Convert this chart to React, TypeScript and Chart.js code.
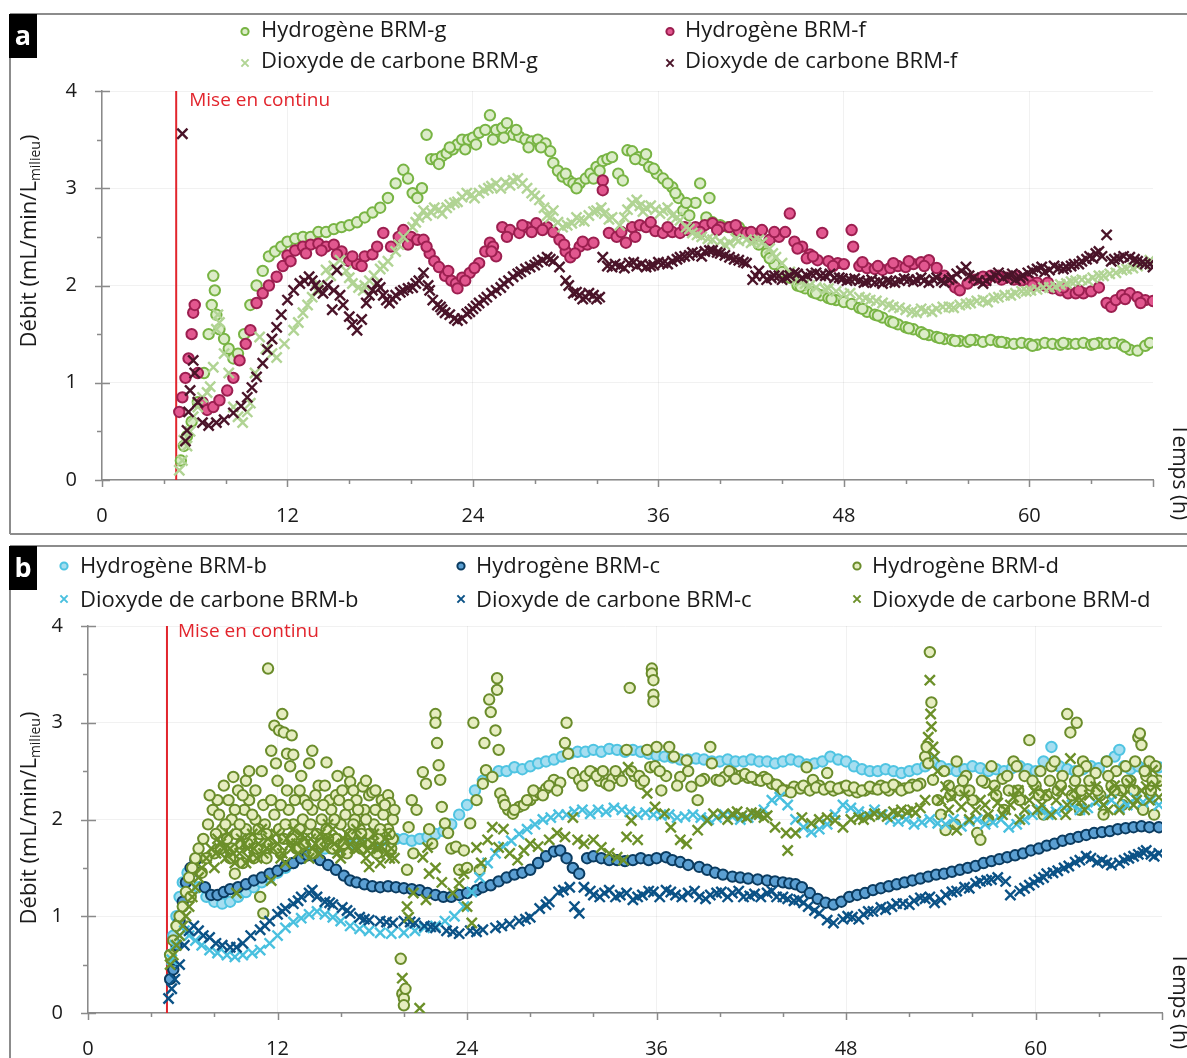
import React, { useEffect, useRef } from "react";
import { Chart, registerables } from "chart.js";

Chart.register(...registerables);

const FONT = "'Open Sans', 'DejaVu Sans', sans-serif";
Chart.defaults.font.family = FONT;

type Pt = [number, number];

// ---------- tick labels ----------
const X_TICKS = [0, 12, 24, 36, 48, 60];
const Y_TICKS = [0, 1, 2, 3, 4];
const START_A = 4.8;
const START_B = 5.0;

// ---------- panel a ----------
const H2_BRM_G: Pt[] = [
  [5.1,0.2],[5.3,0.35],[5.5,0.45],[5.8,0.6],[6.2,0.8],[6.6,1.1],[6.9,1.5],[7.1,1.8],[7.2,2.1],[7.3,1.95],[7.4,1.7],[7.6,1.55],[7.9,1.45],[8.2,1.35],[8.5,1.25],[8.8,1.3],[9.2,1.5],[9.6,1.8],[10,2.0],[10.4,2.15],[10.8,2.3],[11.2,2.35],[11.6,2.4],[12,2.45],[12.5,2.48],[13,2.5],[13.5,2.5],[14,2.55],[14.5,2.55],[15,2.58],[15.5,2.6],[16,2.62],[16.5,2.65],[17,2.7],[17.5,2.75],[18,2.8],[18.5,2.9],[19,3.05],[19.5,3.19],[19.8,3.1],[20.1,2.95],[20.4,2.9],[20.7,3.0],[21,3.55],[21.3,3.3],[21.6,3.3],[22,3.33],[22.3,3.36],[22.7,3.4],[23,3.45],[23.3,3.5],[23.7,3.5],[24,3.52],[24.4,3.57],[24.8,3.6],[25.1,3.75],[25.5,3.6],[25.9,3.62],[26.2,3.67],[26.6,3.55],[27,3.53],[27.4,3.5],[27.8,3.48],[28.2,3.5],[28.7,3.46],[29,3.38],[29.2,3.26],[29.5,3.18],[29.8,3.12],[30.2,3.08],[30.5,3.05],[30.9,3.05],[31.3,3.1],[31.6,3.15],[32,3.22],[32.4,3.28],[32.7,3.3],[33,3.32],[33.4,3.15],[33.7,3.08],[34,3.39],[34.3,3.38],[34.7,3.32],[35,3.29],[35.4,3.22],[35.9,3.15],[36.3,3.1],[36.9,3.01],[37.3,2.9],[37.6,2.77],[38,2.72],[38.4,2.85],[38.7,3.05],[39.1,2.7],[39.5,2.65],[40,2.62],[40.5,2.6],[41,2.57],[41.5,2.55],[42,2.5],[42.5,2.42],[43,2.33],[43.5,2.22],[44,2.14],[44.5,2.08],[45,2.0],[45.5,1.97],[46,1.93],[46.5,1.9],[47,1.87],[47.5,1.85],[48,1.83],[48.5,1.81],[49,1.77],[49.5,1.73],[50,1.7],[50.5,1.67],[51,1.63],[51.5,1.6],[52,1.57],[52.5,1.55],[53,1.52],[53.5,1.49],[54,1.47],[54.5,1.45],[55,1.44],[55.5,1.43],[56,1.42],[56.5,1.44],[57,1.42],[57.5,1.44],[58,1.42],[58.5,1.41],[59,1.4],[59.5,1.41],[60,1.4],[60.5,1.39],[61,1.41],[61.5,1.4],[62,1.39],[62.5,1.4],[63,1.4],[63.5,1.41],[64,1.39],[64.5,1.41],[65,1.4],[65.5,1.41],[66,1.39],[66.5,1.34],[67,1.33],[67.5,1.38],[67.8,1.41]
];
const H2_BRM_G_MORE: Pt[] = [
  [21.8,3.25],[22.5,3.42],[23.5,3.4],[24.2,3.45],[25.3,3.5],[26.0,3.52],[26.8,3.6],[27.6,3.42],[28.4,3.42],[30.0,3.15],[30.7,3.0],[31.8,3.1],[32.2,3.18],[34.5,3.3],[35.2,3.35],[35.7,3.2],[36.6,3.05],[37.1,2.95],[37.8,2.85],[39.3,2.9],[41.2,2.6],[43.2,2.28],[45.2,1.99],[46.2,1.92],[47.2,1.86],[49.2,1.76],[50.2,1.69],[51.2,1.62],[52.2,1.56],[53.2,1.5],[54.2,1.46],[55.2,1.43],[56.2,1.44],[58.2,1.42],[60.2,1.38],[62.2,1.41],[64.2,1.4],[66.2,1.37]
];

const H2_BRM_F: Pt[] = [
  [5.0,0.7],[5.2,0.85],[5.4,1.05],[5.6,1.25],[5.8,1.5],[5.9,1.72],[6.0,1.8],[6.2,1.1],[6.5,0.8],[6.8,0.72],[7.2,0.75],[7.6,0.82],[8.1,0.92],[8.5,1.05],[8.9,1.23],[9.3,1.4],[9.6,1.54],[10,1.82],[10.4,1.92],[10.8,2.0],[11.3,2.09],[11.7,2.2],[12,2.31],[12.5,2.36],[13,2.4],[13.5,2.42],[14,2.43],[14.5,2.4],[15,2.42],[15.5,2.35],[16,2.25],[16.5,2.22],[17,2.3],[17.5,2.32],[18.2,2.54],[18.7,2.4],[19.2,2.5],[19.5,2.57],[20,2.5],[20.4,2.47],[20.8,2.47],[21.2,2.33],[21.5,2.25],[21.8,2.19],[22.2,2.1],[22.6,2.05],[22.9,2.02],[23.3,2.08],[23.8,2.13],[24.4,2.23],[24.8,2.35],[25.1,2.44],[25.3,2.4],[25.5,2.3],[25.9,2.6],[26.4,2.57],[27,2.54],[27.5,2.6],[28.1,2.64],[28.8,2.6],[29.2,2.55],[29.6,2.47],[30,2.35],[30.3,2.29],[30.9,2.4],[31.4,2.42],[31.8,2.44],[32.4,3.08],[32.4,2.98],[32.8,2.54],[33.3,2.5],[33.9,2.44],[34.3,2.6],[34.8,2.62],[35.2,2.6],[35.8,2.56],[36.3,2.54],[36.9,2.55],[37.4,2.54],[37.9,2.57],[38.4,2.6],[39,2.62],[39.5,2.64],[40,2.6],[40.6,2.6],[41.2,2.56],[41.7,2.54],[42.2,2.5],[42.7,2.57],[43.2,2.47],[43.8,2.5],[44.2,2.55],[44.5,2.74],[44.8,2.45],[45.3,2.4],[45.8,2.32],[46.3,2.26],[46.6,2.54],[47,2.25],[47.6,2.23],[48,2.22],[48.5,2.57],[48.6,2.4],[49,2.2],[49.5,2.18],[50,2.17],[50.5,2.16],[51,2.18],[51.5,2.2],[52,2.19],[52.5,2.22],[53,2.24],[53.5,2.26],[54,2.18],[54.5,2.1],[54.8,2.05],[55.2,1.98],[55.5,1.95],[56,2.02],[56.5,2.06],[57,2.09],[57.5,2.1],[58,2.1],[58.5,2.08],[59,2.06],[59.5,2.05],[60,2.05],[60.5,2.03],[61,2.0],[61.5,1.97],[62,1.95],[62.5,1.92],[63,1.92],[63.5,1.92],[64,1.94],[64.5,1.98],[65,1.82],[65.3,1.78],[65.6,1.85],[66,1.9],[66.5,1.92],[67,1.88],[67.5,1.85],[68,1.84]
];
const H2_BRM_F_MORE: Pt[] = [
  [12.2,2.25],[13.2,2.33],[14.2,2.36],[15.2,2.32],[16.2,2.3],[16.8,2.2],[17.8,2.4],[19.8,2.42],[21.0,2.4],[22.4,2.15],[23.0,1.97],[23.5,2.05],[24.1,2.18],[25.2,2.35],[26.2,2.5],[27.2,2.62],[27.8,2.55],[28.5,2.57],[29.9,2.42],[30.6,2.33],[31.1,2.45],[33.6,2.55],[34.5,2.5],[35.5,2.65],[36.6,2.6],[37.7,2.6],[38.7,2.55],[39.8,2.57],[41.0,2.62],[42.0,2.55],[43.5,2.55],[45.0,2.38],[45.6,2.28],[46.0,2.3],[47.3,2.2],[49.2,2.24],[50.2,2.2],[51.2,2.23],[52.2,2.25],[53.2,2.2],[57.2,2.05],[58.2,2.06],[59.2,2.1],[60.2,2.0],[61.2,2.03],[62.2,1.98],[63.2,1.95],[66.2,1.86],[67.2,1.82]
];

const CO2_BRM_G: Pt[] = [
  [5.0,0.1],[5.2,0.2],[5.3,0.41],[5.5,0.35],[5.7,0.5],[5.9,0.65],[6.2,0.75],[6.5,0.85],[6.8,0.9],[7.0,0.96],[7.2,1.16],[7.4,1.55],[7.5,1.7],[7.6,1.62],[7.9,1.3],[8.2,1.1],[8.5,0.75],[8.8,0.65],[9.1,0.59],[9.4,0.7],[9.6,0.79],[9.9,1.1],[10.2,1.47],[10.6,1.35],[11,1.3],[11.3,1.26],[11.8,1.4],[12.4,1.54],[13,1.72],[13.6,1.88],[14.1,2.0],[14.5,2.16],[15,2.2],[15.4,2.26],[15.8,2.15],[16.2,2.02],[16.6,1.98],[16.9,1.95],[17.3,2.05],[17.6,2.1],[18,2.17],[18.5,2.25],[19,2.35],[19.5,2.5],[20.1,2.6],[20.5,2.7],[20.8,2.77],[21.3,2.75],[21.8,2.78],[22.3,2.8],[22.8,2.85],[23.3,2.91],[23.9,2.93],[24.4,2.95],[25,3.0],[25.5,3.05],[26.1,3.06],[26.6,3.08],[27.2,3.05],[27.8,2.95],[28.3,2.88],[28.8,2.72],[29.2,2.77],[29.5,2.65],[29.8,2.6],[30.4,2.64],[30.9,2.67],[31.5,2.72],[32,2.77],[32.5,2.74],[33,2.7],[33.5,2.62],[34,2.78],[34.3,2.85],[34.8,2.82],[35.2,2.8],[35.8,2.78],[36.3,2.77],[36.9,2.72],[37.4,2.67],[37.8,2.6],[38.2,2.54],[38.8,2.5],[39.5,2.47],[40,2.45],[40.6,2.44],[41.2,2.46],[41.7,2.47],[42.2,2.46],[42.7,2.44],[43.2,2.38],[43.6,2.29],[44,2.23],[44.5,2.14],[44.9,2.06],[45.5,2.02],[46.2,1.98],[46.8,1.96],[47.5,1.94],[48.4,1.92],[49,1.88],[49.7,1.85],[50.5,1.82],[51.2,1.78],[52,1.75],[52.7,1.72],[53.3,1.74],[54,1.76],[54.8,1.78],[55.5,1.8],[56.2,1.82],[57,1.85],[57.7,1.87],[58.4,1.9],[59.1,1.92],[59.8,1.94],[60.5,1.96],[61.3,1.98],[62,2.01],[62.7,2.04],[63.4,2.06],[64.1,2.08],[64.8,2.1],[65.6,2.13],[66.3,2.17],[67,2.2],[67.8,2.26]
];
const CO2_BRM_G_MORE: Pt[] = [
  [12.7,1.62],[13.3,1.8],[13.9,1.95],[14.8,2.1],[16.0,2.08],[17.0,2.0],[18.2,2.2],[19.2,2.42],[20.3,2.65],[21.0,2.72],[21.5,2.8],[22.0,2.74],[22.5,2.83],[23.0,2.86],[23.6,2.95],[24.1,2.9],[24.7,2.98],[25.2,3.02],[25.8,3.0],[26.4,3.03],[26.9,3.1],[27.5,3.0],[28.0,2.92],[28.6,2.8],[29.0,2.7],[30.1,2.62],[30.7,2.7],[31.2,2.66],[31.8,2.76],[32.3,2.8],[32.8,2.68],[33.8,2.7],[34.6,2.88],[35.0,2.76],[35.5,2.82],[36.1,2.74],[36.6,2.8],[37.2,2.7],[38.0,2.58],[38.5,2.52],[39.2,2.48],[40.3,2.42],[41.0,2.48],[42.0,2.44],[42.5,2.47],[43.4,2.33],[45.2,2.04],[45.8,2.0],[47.0,1.97],[48.0,1.91],[49.4,1.87],[50.1,1.84],[50.9,1.8],[51.6,1.77],[52.4,1.73],[53.0,1.76],[53.7,1.73],[54.4,1.78],[55.1,1.77],[55.9,1.81],[56.6,1.84],[57.3,1.83],[58.0,1.88],[58.8,1.9],[59.5,1.94],[60.1,1.95],[60.9,1.98],[61.7,1.99],[62.4,2.02],[63.0,2.05],[63.8,2.05],[64.5,2.1],[65.2,2.12],[66.0,2.16],[66.7,2.18],[67.4,2.22]
];

const CO2_BRM_F: Pt[] = [
  [5.2,3.56],[5.4,0.4],[5.5,0.51],[5.6,0.7],[5.7,0.92],[5.9,1.23],[6.0,1.1],[6.2,0.8],[6.5,0.59],[6.9,0.56],[7.4,0.59],[7.9,0.62],[8.5,0.69],[9.0,0.76],[9.4,0.85],[9.7,0.95],[10,1.06],[10.4,1.2],[10.7,1.34],[11,1.45],[11.3,1.57],[11.6,1.7],[12,1.85],[12.4,1.95],[12.8,2.02],[13.1,2.05],[13.4,2.09],[13.8,2.0],[14.3,1.92],[14.6,2.0],[14.9,1.75],[15.2,2.16],[15.6,1.8],[16,1.68],[16.5,1.54],[16.8,1.65],[17.1,1.82],[17.5,1.95],[17.8,2.02],[18.2,1.9],[18.6,1.82],[19,1.9],[19.5,1.95],[20.1,1.98],[20.5,2.05],[20.8,2.13],[21.1,2.0],[21.4,1.85],[21.7,1.8],[22,1.75],[22.5,1.7],[23,1.64],[23.3,1.66],[23.6,1.71],[24,1.76],[24.4,1.82],[24.9,1.88],[25.5,1.95],[26,2.02],[26.6,2.09],[27.1,2.14],[27.7,2.19],[28.2,2.24],[28.8,2.29],[29.2,2.25],[29.6,2.19],[30,2.05],[30.5,1.92],[30.9,1.9],[31.3,1.88],[31.8,1.9],[32.2,1.88],[32.4,2.29],[32.7,2.2],[33,2.19],[33.5,2.2],[34.1,2.23],[34.6,2.2],[35.2,2.19],[35.7,2.21],[36.3,2.23],[36.9,2.25],[37.4,2.29],[38,2.31],[38.5,2.33],[39,2.35],[39.5,2.36],[40,2.33],[40.6,2.29],[41.2,2.26],[41.7,2.23],[42.1,2.06],[42.5,2.15],[43,2.06],[43.5,2.1],[44,2.06],[44.5,2.1],[45,2.12],[45.6,2.1],[46.2,2.13],[46.8,2.1],[47.4,2.08],[47.9,2.07],[48.4,2.06],[49,2.05],[49.5,2.04],[50,2.03],[50.5,2.02],[51,2.04],[51.6,2.05],[52.2,2.06],[52.7,2.06],[53.2,2.05],[53.8,2.06],[54.3,2.05],[54.8,2.06],[55.3,2.12],[55.9,2.19],[56.4,2.08],[57,2.02],[57.5,2.08],[58,2.13],[58.6,2.1],[59.1,2.06],[59.6,2.1],[60.2,2.15],[60.8,2.19],[61.3,2.16],[61.9,2.18],[62.4,2.19],[62.9,2.22],[63.4,2.25],[63.9,2.3],[64.3,2.33],[64.7,2.3],[65.0,2.52],[65.3,2.25],[65.8,2.28],[66.5,2.29],[67,2.25],[67.5,2.22],[68,2.19]
];
const CO2_BRM_F_MORE: Pt[] = [
  [13.6,2.05],[14.0,1.95],[15.0,1.95],[15.4,1.9],[16.2,1.6],[17.3,1.9],[18.0,1.98],[18.4,1.85],[18.8,1.86],[19.3,1.93],[19.8,1.97],[20.3,2.02],[21.2,1.95],[21.9,1.78],[22.2,1.72],[22.8,1.66],[23.8,1.73],[24.2,1.79],[24.7,1.85],[25.2,1.92],[25.8,1.98],[26.3,2.05],[26.9,2.12],[27.4,2.17],[28.0,2.21],[28.5,2.26],[29.0,2.27],[30.2,2.0],[30.7,1.93],[31.1,1.86],[31.5,1.92],[32.0,1.86],[33.2,2.22],[33.8,2.18],[34.4,2.24],[34.9,2.22],[35.5,2.2],[36.0,2.24],[36.6,2.22],[37.2,2.27],[37.7,2.3],[38.2,2.34],[38.8,2.3],[39.3,2.36],[39.8,2.34],[40.3,2.31],[40.9,2.27],[41.5,2.24],[42.3,2.1],[42.8,2.1],[43.3,2.08],[43.8,2.1],[44.3,2.08],[44.8,2.13],[45.3,2.08],[45.9,2.12],[46.5,2.1],[47.1,2.12],[47.7,2.08],[48.2,2.05],[48.7,2.07],[49.3,2.03],[49.8,2.06],[50.3,2.04],[50.8,2.05],[51.3,2.03],[51.9,2.07],[52.5,2.04],[53.0,2.08],[53.5,2.03],[54.0,2.08],[54.5,2.03],[55.0,2.08],[55.6,2.15],[56.1,2.1],[56.7,2.05],[57.2,2.05],[57.8,2.1],[58.3,2.08],[58.9,2.12],[59.4,2.08],[59.9,2.13],[60.5,2.17],[61.0,2.14],[61.6,2.2],[62.2,2.17],[62.7,2.2],[63.2,2.22],[63.7,2.27],[64.1,2.28],[64.5,2.35],[65.5,2.27],[66.1,2.3],[66.8,2.27],[67.3,2.24],[67.8,2.22]
];

// ---------- panel b ----------
const H2_BRM_B: Pt[] = [
  [5.2,0.6],[5.4,0.8],[5.6,1.0],[5.8,1.2],[6.0,1.35],[6.3,1.45],[6.6,1.5],[7.0,1.3],[7.5,1.2],[8,1.15],[8.5,1.13],[9,1.15],[9.5,1.2],[10,1.25],[10.5,1.3],[11,1.35],[11.5,1.4],[12,1.45],[12.5,1.5],[13,1.55],[13.5,1.6],[14,1.65],[14.5,1.68],[15,1.7],[15.5,1.7],[16,1.72],[16.5,1.73],[17,1.75],[17.5,1.75],[18,1.76],[18.5,1.78],[19,1.78],[19.5,1.8],[20,1.8],[20.5,1.78],[21,1.8],[21.5,1.82],[22,1.85],[22.5,1.88],[23,1.95],[23.5,2.05],[24,2.15],[24.5,2.3],[25,2.4],[25.5,2.45],[26,2.5],[26.5,2.5],[27,2.54],[27.5,2.52],[28,2.55],[28.5,2.58],[29,2.6],[29.5,2.62],[30,2.65],[30.5,2.68],[31,2.7],[31.5,2.7],[32,2.72],[32.5,2.7],[33,2.73],[33.5,2.72],[34,2.7],[34.5,2.72],[35,2.7],[35.5,2.68],[36,2.66],[36.5,2.65],[37,2.64],[37.5,2.62],[38,2.62],[38.5,2.63],[39,2.62],[39.5,2.6],[40,2.6],[40.5,2.62],[41,2.6],[41.5,2.6],[42,2.62],[42.5,2.6],[43,2.6],[43.5,2.58],[44,2.6],[44.5,2.62],[45,2.6],[45.5,2.57],[46,2.58],[46.5,2.6],[47,2.65],[47.5,2.62],[48,2.6],[48.5,2.55],[49,2.52],[49.5,2.5],[50,2.5],[50.5,2.52],[51,2.5],[51.5,2.48],[52,2.5],[52.5,2.52],[53,2.55],[53.5,2.6],[54,2.55],[54.5,2.52],[55,2.5],[55.5,2.52],[56,2.55],[56.5,2.53],[57,2.5],[57.5,2.52],[58,2.5],[58.5,2.53],[59,2.55],[59.5,2.52],[60,2.5],[60.5,2.6],[61,2.75],[61.5,2.55],[62,2.52],[62.5,2.5],[63,2.52],[63.5,2.55],[64,2.53],[64.5,2.6],[65,2.65],[65.3,2.72],[65.6,2.55],[66,2.52],[66.5,2.55],[67,2.53],[67.5,2.55],[67.8,2.54]
];

const H2_BRM_C: Pt[] = [
  [5.2,0.35],[5.4,0.45],[5.6,0.7],[5.8,0.95],[6.0,1.15],[6.2,1.35],[6.5,1.5],[6.8,1.58],[7.1,1.45],[7.4,1.3],[7.8,1.22],[8.2,1.22],[8.6,1.25],[9,1.28],[9.5,1.3],[10,1.33],[10.5,1.37],[11,1.4],[11.5,1.44],[12,1.47],[12.5,1.52],[13,1.55],[13.5,1.6],[13.9,1.63],[14.3,1.62],[14.7,1.58],[15.2,1.53],[15.7,1.48],[16.2,1.42],[16.6,1.37],[17,1.35],[17.5,1.33],[18,1.31],[18.5,1.3],[19,1.31],[19.5,1.3],[20,1.29],[20.5,1.28],[21,1.27],[21.5,1.24],[22,1.22],[22.5,1.2],[23,1.2],[23.5,1.22],[24,1.24],[24.6,1.27],[25,1.3],[25.5,1.32],[26,1.36],[26.5,1.4],[27,1.43],[27.5,1.45],[28,1.48],[28.5,1.55],[29,1.62],[29.5,1.67],[29.9,1.68],[30.3,1.6],[30.7,1.5],[31.1,1.44],[31.6,1.6],[32,1.62],[32.5,1.6],[33,1.58],[33.5,1.58],[34,1.57],[34.5,1.58],[35,1.6],[35.5,1.58],[36,1.6],[36.6,1.61],[37,1.58],[37.5,1.56],[38,1.53],[38.7,1.51],[39.2,1.48],[39.7,1.45],[40.2,1.43],[40.8,1.41],[41.3,1.4],[41.8,1.39],[42.4,1.38],[43,1.37],[43.5,1.36],[44,1.35],[44.4,1.34],[44.8,1.33],[45.2,1.3],[45.7,1.24],[46.2,1.18],[46.7,1.14],[47.2,1.12],[47.7,1.15],[48.2,1.2],[48.7,1.22],[49.2,1.24],[49.7,1.27],[50.2,1.29],[50.7,1.31],[51.2,1.33],[51.7,1.35],[52.2,1.37],[52.7,1.39],[53.2,1.41],[53.7,1.43],[54.2,1.44],[54.7,1.46],[55.2,1.48],[55.7,1.5],[56.2,1.52],[56.7,1.55],[57.2,1.57],[57.7,1.59],[58.2,1.61],[58.7,1.63],[59.2,1.65],[59.7,1.68],[60.2,1.7],[60.7,1.73],[61.2,1.75],[61.7,1.78],[62.2,1.8],[62.7,1.82],[63.2,1.84],[63.7,1.86],[64.2,1.87],[64.7,1.88],[65.2,1.9],[65.7,1.91],[66.2,1.92],[66.7,1.93],[67.2,1.92],[67.8,1.92]
];

const H2_BRM_D: Pt[] = [
  [5.2,0.6],[5.4,0.75],[5.6,0.9],[5.8,1.0],[6.0,1.1],[6.2,1.25],[6.4,1.4],[6.5,1.2],[6.6,1.5],[6.8,1.6],[7.0,1.7],[7.2,1.45],[7.3,1.8],[7.6,1.95],[7.9,2.1],[8.0,1.65],[8.2,2.2],[8.4,1.7],[8.5,1.9],[8.6,2.35],[8.8,1.8],[9.0,1.6],[9.1,2.0],[9.2,2.44],[9.3,1.44],[9.4,1.85],[9.5,2.3],[9.7,1.75],[9.8,1.55],[9.9,2.1],[10,1.9],[10.0,2.4],[10.2,2.2],[10.3,1.8],[10.5,1.6],[10.6,2.0],[10.7,1.7],[10.9,1.85],[10.9,1.2],[11.0,2.5],[11.1,1.03],[11.2,1.95],[11.3,1.6],[11.4,3.56],[11.5,1.75],[11.6,2.71],[11.8,2.05],[11.8,2.97],[11.9,2.58],[12.0,2.4],[12.1,1.9],[12.1,2.92],[12.2,1.65],[12.3,3.09],[12.4,1.8],[12.4,2.9],[12.6,2.68],[12.7,2.1],[12.9,2.87],[13,1.95],[13.0,2.67],[13.2,1.7],[13.3,1.85],[13.4,2.3],[13.5,2.45],[13.6,2.0],[13.7,2.2],[13.9,1.9],[14.0,2.58],[14.2,2.1],[14.2,2.71],[14.3,1.65],[14.5,1.85],[14.6,2.35],[14.8,2.0],[15.0,2.35],[15.1,1.9],[15.1,2.59],[15.3,2.2],[15.4,2.1],[15.5,1.7],[15.7,1.8],[15.7,2.25],[16,1.95],[16.1,2.3],[16.3,2.05],[16.4,1.65],[16.5,2.49],[16.6,1.85],[16.6,2.39],[16.8,2.3],[16.9,2.0],[17.0,2.2],[17.2,1.9],[17.3,1.7],[17.4,2.34],[17.5,2.1],[17.8,1.85],[17.8,2.25],[18.0,2.28],[18.1,1.95],[18.2,2.1],[18.3,1.65],[18.4,1.8],[18.6,2.2],[18.7,2.05],[19.0,1.9],[19.0,2.25],[19.1,2.17],[19.2,1.7],[19.3,1.8],[19.3,2.0],
  [19.8,0.56],[19.9,0.2],[20.0,0.15],[20.0,0.08],[20.1,0.25],[20.2,1.48],[20.3,1.92],[20.5,2.2],[20.6,1.65],[20.8,2.1],[21.2,2.49],[21.4,2.37],[21.6,1.9],[21.8,1.75],[22.0,3.09],[22.0,3.0],[22.1,2.79],[22.2,2.56],[22.3,2.41],[22.4,2.13],[22.6,1.96],[22.8,1.86],[23.0,1.7],[23.3,1.72],[23.5,1.48],[23.8,1.68],[24.0,1.5],[24.2,1.96],[24.4,3.0],[24.6,2.2],[24.8,1.48],[25.0,2.37],[25.1,2.79],[25.2,2.51],[25.4,3.24],[25.5,3.11],[25.6,2.44],[25.8,2.92],[25.9,3.46],[25.9,3.34],[26.0,2.72],[26.1,2.27],[26.3,2.2],[26.6,2.1],[26.9,2.06],[27.3,2.13],[27.6,2.15],[28.0,2.2],[28.3,2.25],[28.6,2.27],[29.0,2.32],[29.5,2.41],[29.9,2.38],[30.2,2.79],[30.3,3.0],[30.4,2.68],[30.7,2.48],[31.1,2.41],[31.5,2.45],[32.0,2.48],[32.4,2.4],[32.8,2.37],[33.2,2.42],[33.6,2.45],[34.1,2.72],[34.3,3.36],[34.6,2.45],[35.0,2.37],[35.4,2.72],[35.6,2.54],[35.7,3.56],[35.7,3.51],[35.8,3.44],[35.8,3.29],[35.8,3.22],[36.0,2.75],[36.3,2.3],[36.6,2.45],[36.8,2.75],[37.1,2.65],[37.5,2.44],[37.9,2.61],[38.2,2.34],[38.6,2.2],[39.0,2.42],[39.4,2.75],[39.5,2.58],[39.8,2.41],[40.3,2.44],[40.8,2.48],[41.3,2.45],[41.8,2.43],[42.3,2.41],[42.8,2.44],[43.3,2.37],[43.8,2.33],[44.2,2.3],[44.7,2.34],[45.1,2.32],[45.5,2.54],[45.9,2.41],[46.3,2.35],[46.8,2.48],[47.2,2.3],[47.7,2.33],[48.2,2.3],[48.7,2.28],[49.2,2.3],[49.7,2.32],[50.2,2.35],[50.7,2.3],[51.2,2.34],[51.7,2.32],[52.2,2.36],[52.7,2.37],[53.0,2.65],[53.1,2.75],[53.2,2.58],[53.3,3.73],[53.4,3.21],[53.5,2.41],[53.8,2.2],[54.0,2.05],[54.2,2.5],[54.3,1.89],[54.5,2.35],[54.9,1.95],[55.0,2.6],[55.2,2.3],[55.6,2.45],[56.0,2.2],[56.3,1.86],[56.5,1.79],[56.8,2.38],[57.0,2.0],[57.2,2.55],[57.5,2.25],[57.9,2.42],[58.0,2.1],[58.3,2.3],[58.6,2.6],[58.8,2.55],[59.0,2.2],[59.3,2.45],[59.6,2.82],[60.0,2.35],[60.3,2.5],[60.5,2.05],[60.7,2.25],[61.0,2.55],[61.2,2.6],[61.4,2.3],[61.7,2.45],[62.0,3.09],[62.2,2.9],[62.5,2.4],[62.6,3.0],[62.8,2.1],[62.9,2.3],[63.0,2.6],[63.2,2.55],[63.5,2.35],[63.8,2.48],[64.1,2.25],[64.3,2.05],[64.5,2.6],[64.8,2.35],[65.1,2.5],[65.4,2.3],[65.5,2.15],[65.7,2.55],[66.0,2.4],[66.3,2.6],[66.5,2.85],[66.6,2.89],[66.7,2.77],[66.8,2.1],[67.0,2.45],[67.2,2.6],[67.3,2.3],[67.5,2.05],[67.6,2.55],[67.8,2.4]
];
const H2_BRM_D_MORE: Pt[] = [
  [7.5,1.6],[7.7,2.25],[8.1,1.85],[8.3,2.05],[8.7,1.95],[8.9,2.2],[9.1,1.7],[9.3,2.1],[9.6,1.95],[9.8,2.25],[10.1,1.75],[10.4,2.05],[10.6,2.3],[10.8,1.9],[11.1,2.15],[11.3,1.85],[11.6,2.2],[11.9,1.7],[12.2,2.15],[12.5,1.95],[12.6,2.3],[12.9,1.8],[13.1,2.2],[13.4,1.9],[13.7,1.75],[13.9,2.15],[14.1,1.95],[14.4,2.25],[14.7,1.75],[14.9,2.15],[15.2,1.8],[15.6,2.0],[15.9,2.2],[16.2,1.75],[16.5,2.15],[16.8,1.95],[17.1,2.1],[17.3,1.85],[17.6,2.0],[17.9,1.75],[18.2,2.3],[18.5,1.9],[18.8,2.15],[19.1,1.85],[19.4,2.1],[10.2,2.5],[12.8,2.55],[15.8,2.45],[17.6,2.4],
  [26.4,2.15],[27.0,2.1],[27.8,2.2],[28.2,2.3],[28.8,2.25],[29.2,2.35],[29.7,2.3],[31.3,2.35],[31.8,2.5],[32.2,2.45],[32.6,2.5],[33.0,2.35],[33.4,2.5],[33.8,2.4],[34.4,2.5],[34.9,2.45],[35.2,2.4],[35.9,2.55],
  [36.2,2.5],[37.3,2.35],[38.0,2.5],[38.8,2.4],[40.0,2.4],[40.6,2.5],[41.0,2.42],[41.6,2.47],[42.0,2.44],[42.6,2.4],[43.0,2.42],[43.6,2.36],[44.0,2.3],[44.5,2.28],[45.3,2.35],[45.7,2.3],[46.1,2.33],[46.6,2.31],[47.0,2.34],[47.5,2.32],[48.0,2.35],[48.5,2.33],[49.0,2.3],[49.5,2.34],[50.0,2.31],[50.5,2.33],[51.0,2.36],[51.5,2.3],[52.0,2.33],[52.5,2.35],
  [54.6,2.25],[55.4,2.4],[55.8,2.3],[56.6,2.4],[57.4,2.35],[58.2,2.45],[58.9,2.3],[59.8,2.4],[60.2,2.25],[60.9,2.4],[61.6,2.35],[62.3,2.25],[62.7,2.5],[63.4,2.4],[63.9,2.3],[64.6,2.45],[65.0,2.3],[65.8,2.4],[66.2,2.3],[66.9,2.5],[67.4,2.4]
];

const CO2_BRM_B: Pt[] = [
  [5.3,0.55],[5.5,0.7],[5.8,0.8],[6.1,0.85],[6.4,0.8],[6.8,0.75],[7.2,0.7],[7.7,0.65],[8.2,0.62],[8.8,0.6],[9.3,0.58],[9.8,0.6],[10.4,0.62],[10.9,0.65],[11.5,0.72],[12,0.8],[12.5,0.88],[13,0.94],[13.5,0.98],[14,1.02],[14.5,1.05],[15,1.02],[15.5,0.99],[16,0.95],[16.6,0.9],[17.2,0.87],[17.8,0.85],[18.5,0.83],[19.2,0.82],[20,0.83],[20.7,0.85],[21.3,0.88],[22,0.9],[22.6,0.95],[23.2,1.0],[23.8,1.1],[24.3,1.25],[24.8,1.4],[25.3,1.55],[25.8,1.65],[26.3,1.72],[26.8,1.78],[27.3,1.85],[27.8,1.9],[28.3,1.95],[28.8,2.0],[29.3,2.02],[29.8,2.05],[30.3,2.05],[30.8,2.08],[31.3,2.1],[31.8,2.06],[32.3,2.1],[32.8,2.08],[33.3,2.12],[33.8,2.1],[34.3,2.08],[34.8,2.05],[35.3,2.07],[35.8,2.05],[36.3,2.04],[36.8,2.05],[37.3,2.02],[37.8,2.03],[38.3,2.05],[38.8,2.02],[39.3,2.0],[39.8,2.02],[40.3,2.05],[40.8,2.03],[41.3,2.0],[41.8,2.02],[42.3,2.05],[42.8,2.1],[43.3,2.2],[43.8,2.23],[44.3,2.15],[44.8,2.0],[45.3,1.92],[45.8,1.87],[46.3,1.9],[46.8,1.95],[47.3,2.05],[47.8,2.15],[48.3,2.12],[48.8,2.08],[49.3,2.05],[49.8,2.1],[50.3,2.05],[50.8,2.0],[51.3,1.98],[51.8,2.0],[52.3,1.95],[52.8,1.97],[53.3,2.0],[53.8,1.96],[54.3,1.95],[54.8,2.0],[55.3,1.93],[55.8,1.98],[56.3,2.0],[56.8,1.95],[57.3,1.97],[57.8,2.0],[58.3,1.92],[58.8,1.95],[59.3,2.0],[59.8,2.05],[60.3,2.1],[60.8,2.05],[61.3,2.08],[61.8,2.12],[62.3,2.15],[62.8,2.1],[63.3,2.12],[63.8,2.18],[64.3,2.15],[64.8,2.2],[65.3,2.12],[65.8,2.15],[66.3,2.22],[66.8,2.18],[67.3,2.2],[67.8,2.15]
];

const CO2_BRM_C: Pt[] = [
  [5.1,0.15],[5.3,0.25],[5.5,0.35],[5.8,0.5],[6.1,0.7],[6.4,0.85],[6.7,0.9],[7.0,0.85],[7.3,0.8],[7.7,0.78],[8.1,0.72],[8.5,0.7],[9,0.68],[9.4,0.68],[9.8,0.72],[10.3,0.8],[10.9,0.86],[11.5,0.95],[12,1.02],[12.5,1.08],[13,1.13],[13.5,1.2],[14,1.24],[14.5,1.2],[15,1.15],[15.5,1.12],[16.1,1.09],[16.6,1.03],[17.2,0.99],[17.8,0.96],[18.5,0.95],[19.3,0.93],[20,0.95],[20.7,0.93],[21.3,0.9],[22,0.88],[22.7,0.85],[23.5,0.82],[24.2,0.85],[25,0.86],[25.8,0.88],[26.7,0.92],[27.3,0.95],[28,0.99],[28.6,1.08],[29.2,1.15],[29.8,1.25],[30.5,1.3],[30.8,1.1],[31.1,1.03],[31.4,1.3],[32,1.22],[32.4,1.2],[33,1.27],[33.7,1.22],[34.5,1.17],[35.1,1.22],[35.8,1.25],[36.6,1.27],[37.2,1.22],[38,1.24],[38.7,1.2],[39.4,1.22],[40.1,1.25],[40.8,1.24],[41.5,1.2],[42.2,1.23],[43,1.24],[43.6,1.2],[44.3,1.18],[45,1.17],[45.6,1.1],[46.3,1.03],[46.8,0.96],[47.2,0.93],[47.8,0.97],[48.4,0.99],[49.1,1.02],[49.7,1.05],[50.2,1.09],[50.9,1.1],[51.6,1.13],[52.3,1.16],[53,1.18],[53.6,1.14],[54.3,1.22],[55,1.26],[55.5,1.3],[56.2,1.34],[56.9,1.37],[57.6,1.4],[58.1,1.36],[58.4,1.22],[59,1.26],[59.6,1.32],[60.2,1.38],[60.7,1.44],[61.4,1.47],[62.1,1.52],[62.8,1.58],[63.5,1.6],[64.2,1.58],[64.8,1.53],[65.3,1.55],[65.9,1.6],[66.5,1.64],[67,1.68],[67.5,1.62],[67.8,1.65]
];
const CO2_BRM_C_MORE: Pt[] = [
  [11.2,0.9],[12.3,1.05],[13.3,1.16],[14.2,1.27],[15.3,1.14],[16.4,1.06],[17.5,0.97],[18.9,0.94],[20.4,0.94],[21.7,0.89],[23.1,0.84],[24.6,0.84],[26.2,0.9],[27.7,0.97],[29.0,1.12],[30.1,1.27],[31.8,1.26],[32.7,1.24],[33.4,1.2],[34.1,1.24],[34.8,1.2],[35.5,1.26],[36.2,1.2],[36.9,1.25],[37.6,1.2],[38.4,1.26],[39.1,1.18],[39.8,1.24],[40.5,1.2],[41.2,1.26],[41.9,1.21],[42.6,1.2],[43.3,1.26],[44.0,1.2],[44.7,1.16],[45.3,1.14],[46.0,1.06],[48.1,1.0],[48.8,0.97],[49.4,1.05],[50.5,1.07],[51.2,1.13],[52.0,1.12],[52.7,1.19],[53.3,1.2],[54.0,1.17],[54.7,1.25],[55.8,1.29],[56.5,1.36],[57.2,1.38],[59.3,1.29],[59.9,1.35],[60.5,1.4],[61.1,1.45],[61.8,1.5],[62.5,1.56],[63.2,1.62],[63.9,1.56],[64.5,1.55],[65.6,1.58],[66.2,1.62],[66.8,1.66],[67.3,1.64]
];

const CO2_BRM_D: Pt[] = [
  [5.2,0.5],[5.4,0.6],[5.6,0.7],[5.8,0.8],[6.0,0.9],[6.2,1.0],[6.4,1.1],[6.6,1.2],[6.8,1.3],[7.0,1.4],[7.2,1.5],[7.5,1.6],[7.8,1.7],[8.0,1.5],[8.1,1.65],[8.4,1.75],[8.7,1.6],[9.0,1.7],[9.3,1.55],[9.4,1.24],[9.6,1.65],[9.9,1.75],[10.0,1.55],[10.2,1.6],[10.5,1.7],[10.8,1.75],[11.0,1.9],[11.1,1.65],[11.4,1.8],[11.6,1.37],[11.7,1.7],[12.0,1.75],[12.3,1.65],[12.5,1.55],[12.6,1.8],[12.9,1.7],[13.0,1.9],[13.2,1.75],[13.5,1.85],[13.8,1.7],[14.0,1.6],[14.1,1.8],[14.4,1.75],[14.7,1.85],[15.0,1.7],[15.2,1.95],[15.3,1.8],[15.6,1.75],[15.9,1.7],[16.0,1.6],[16.2,1.8],[16.5,1.72],[16.8,1.78],[17.0,1.9],[17.1,1.7],[17.4,1.75],[17.7,1.68],[17.8,1.51],[18.0,1.75],[18.3,1.7],[18.5,1.55],[18.6,1.72],[18.9,1.65],[19.0,1.85],[19.2,1.7],[19.4,1.6],
  [19.9,0.36],[20.2,1.1],[20.3,0.99],[20.6,1.24],[21.0,0.05],[21.2,1.61],[21.4,1.17],[21.5,1.71],[21.6,1.44],[22.0,1.5],[22.4,1.35],[23.1,1.24],[23.5,1.34],[23.8,1.44],[24.0,1.1],[24.3,0.93],[24.6,1.71],[24.9,1.55],[25.3,1.79],[25.6,1.92],[26.0,1.71],[26.3,1.9],[26.7,1.65],[27.2,1.58],[27.6,1.68],[28.0,1.75],[28.5,1.72],[29.2,1.79],[29.7,1.86],[30.2,1.82],[30.7,2.02],[31.0,1.79],[31.4,1.75],[32.0,1.79],[32.5,1.71],[33.0,1.65],[33.5,1.61],[33.9,1.58],[34.1,1.82],[34.2,2.54],[34.4,1.99],[34.8,1.79],[35.4,2.27],[35.9,2.13],[36.5,2.06],[36.9,1.92],[37.5,1.79],[37.9,1.75],[38.6,1.89],[39.2,1.99],[39.6,2.06],[40.2,2.05],[40.8,2.06],[41.4,2.04],[42.0,2.07],[42.5,2.05],[43.0,2.04],[43.5,1.92],[44.2,1.86],[44.3,1.68],[44.8,1.86],[45.2,2.02],[45.8,1.96],[46.3,2.0],[46.8,2.02],[47.3,1.99],[47.8,1.92],[48.3,2.0],[48.8,2.02],[49.5,2.03],[50.2,2.05],[51.0,2.08],[51.5,2.1],[52.2,2.1],[52.7,2.12],[53.0,2.2],[53.2,2.85],[53.3,3.44],[53.35,3.09],[53.4,2.96],[53.5,2.75],[53.6,2.65],[53.8,2.5],[54.3,2.34],[54.7,2.23],[55.0,1.89],[55.3,2.13],[55.8,2.0],[56.5,2.2],[57.0,2.05],[57.6,2.17],[58.1,2.1],[58.6,2.23],[59.0,2.0],[59.6,2.2],[60.1,2.1],[60.6,2.27],[61.0,2.05],[61.6,2.3],[62.0,2.15],[62.2,2.63],[62.6,2.2],[63.1,2.1],[63.8,2.34],[64.3,2.15],[64.8,2.27],[65.3,2.1],[66.0,2.37],[66.4,2.2],[67.0,2.34],[67.4,2.51],[67.8,2.23]
];
const CO2_BRM_D_MORE: Pt[] = [
  [8.2,1.8],[8.6,1.7],[8.9,1.85],[9.2,1.65],[9.7,1.8],[10.1,1.7],[10.4,1.85],[10.7,1.6],[11.3,1.7],[11.9,1.85],[12.2,1.6],[12.8,1.75],[13.3,1.65],[13.7,1.8],[14.2,1.7],[14.6,1.65],[15.1,1.8],[15.5,1.9],[15.8,1.65],[16.4,1.85],[16.9,1.7],[17.3,1.8],[17.6,1.6],[18.1,1.85],[18.4,1.7],[18.8,1.8],[19.1,1.6],
  [40.5,2.0],[41.1,2.08],[41.7,2.02],[42.3,2.06],[42.8,2.02],[49.1,2.0],[49.8,2.06],[50.6,2.03],[51.3,2.06],[51.9,2.08],[52.4,2.07],[54.0,2.2],[54.5,2.1],[55.5,2.25],[56.2,2.1],[56.8,2.15],[57.3,2.3],[57.9,2.05],[58.4,2.15],[58.9,2.3],[59.3,2.1],[59.9,2.3],[60.4,2.15],[61.3,2.2],[61.9,2.05],[62.4,2.3],[62.9,2.2],[63.4,2.25],[64.0,2.2],[64.6,2.1],[65.0,2.35],[65.6,2.25],[66.2,2.15],[66.7,2.3],[67.2,2.2],[67.6,2.35]
];

// ---------- styling ----------
const AXIS_COLOR = "#8a8a8a";
const GRID_COLOR = "rgba(0,0,0,0.055)";
const TEXT_COLOR = "#1a1a1a";
const RED = "#e2252d";

interface Series {
  label: string;
  data: Pt[];
  shape: "circle" | "cross";
  stroke: string;
  fill: string;
  order: number;
  mx: number;
  tx: number;
  row: number;
}

interface PanelSpec {
  width: number;
  height: number;
  frameTop: number;
  frameBottom: number;
  drawBottom: boolean;
  label: string;
  padding: { left: number; right: number; top: number; bottom: number };
  xAxisH: number;
  start: number;
  redDx: number;
  redDy: number;
  yTitleY: number;
  tempsY: number;
  legendRows: { my: number; ty: number }[];
  series: Series[];
}

const SERIES_A: Series[] = [
  { label: "Hydrogène BRM-g", data: [...H2_BRM_G, ...H2_BRM_G_MORE], shape: "circle", stroke: "#78b444", fill: "#dcecc9", order: 3, mx: 245, tx: 261, row: 0 },
  { label: "Hydrogène BRM-f", data: [...H2_BRM_F, ...H2_BRM_F_MORE], shape: "circle", stroke: "#9c1f50", fill: "#e2578f", order: 2, mx: 670, tx: 685, row: 0 },
  { label: "Dioxyde de carbone BRM-g", data: [...CO2_BRM_G, ...CO2_BRM_G_MORE], shape: "cross", stroke: "#b1d494", fill: "#b1d494", order: 1, mx: 245, tx: 261, row: 1 },
  { label: "Dioxyde de carbone BRM-f", data: [...CO2_BRM_F, ...CO2_BRM_F_MORE], shape: "cross", stroke: "#4a1429", fill: "#4a1429", order: 0, mx: 670, tx: 685, row: 1 },
];

const SERIES_B: Series[] = [
  { label: "Hydrogène BRM-b", data: H2_BRM_B, shape: "circle", stroke: "#4fc4e2", fill: "#a6def0", order: 5, mx: 64, tx: 80, row: 0 },
  { label: "Hydrogène BRM-c", data: H2_BRM_C, shape: "circle", stroke: "#0a3b60", fill: "#5b9fd2", order: 4, mx: 461, tx: 476, row: 0 },
  { label: "Hydrogène BRM-d", data: [...H2_BRM_D, ...H2_BRM_D_MORE], shape: "circle", stroke: "#6a8c2b", fill: "#e6edc0", order: 3, mx: 857, tx: 872, row: 0 },
  { label: "Dioxyde de carbone BRM-b", data: CO2_BRM_B, shape: "cross", stroke: "#49c0df", fill: "#49c0df", order: 2, mx: 64, tx: 80, row: 1 },
  { label: "Dioxyde de carbone BRM-c", data: [...CO2_BRM_C, ...CO2_BRM_C_MORE], shape: "cross", stroke: "#0b5286", fill: "#0b5286", order: 1, mx: 461, tx: 476, row: 1 },
  { label: "Dioxyde de carbone BRM-d", data: [...CO2_BRM_D, ...CO2_BRM_D_MORE], shape: "cross", stroke: "#6c9029", fill: "#6c9029", order: 0, mx: 857, tx: 872, row: 1 },
];

const PANEL_A: PanelSpec = {
  width: 1187, height: 540, frameTop: 14, frameBottom: 534, drawBottom: true, label: "a",
  padding: { left: 42, right: 34, top: 91, bottom: 4 }, xAxisH: 56,
  start: START_A, redDx: 13, redDy: 15, yTitleY: 241, tempsY: 472,
  legendRows: [{ my: 31.5, ty: 37 }, { my: 63, ty: 68 }],
  series: SERIES_A,
};

const PANEL_B: PanelSpec = {
  width: 1187, height: 518, frameTop: 6, frameBottom: 518, drawBottom: false, label: "b",
  padding: { left: 28, right: 25, top: 86, bottom: 0 }, xAxisH: 45,
  start: START_B, redDx: 11, redDy: 11, yTitleY: 278, tempsY: 461,
  legendRows: [{ my: 26, ty: 33 }, { my: 59, ty: 67 }],
  series: SERIES_B,
};

function drawMarker(ctx: CanvasRenderingContext2D, s: Series, x: number, y: number) {
  ctx.save();
  ctx.lineWidth = 2;
  ctx.strokeStyle = s.stroke;
  if (s.shape === "circle") {
    ctx.fillStyle = s.fill;
    ctx.beginPath();
    ctx.arc(x, y, 3.6, 0, Math.PI * 2);
    ctx.fill();
    ctx.stroke();
  } else {
    const d = 3.6;
    ctx.beginPath();
    ctx.moveTo(x - d, y - d);
    ctx.lineTo(x + d, y + d);
    ctx.moveTo(x + d, y - d);
    ctx.lineTo(x - d, y + d);
    ctx.stroke();
  }
  ctx.restore();
}

function makeDecor(spec: PanelSpec) {
  return {
    id: "decor",
    beforeDatasetsDraw(chart: any) {
      const ctx: CanvasRenderingContext2D = chart.ctx;
      const xs = chart.scales.x;
      const ys = chart.scales.y;
      const px = xs.getPixelForValue(spec.start);
      ctx.save();
      ctx.strokeStyle = RED;
      ctx.lineWidth = 2;
      ctx.beginPath();
      ctx.moveTo(px, ys.getPixelForValue(4));
      ctx.lineTo(px, ys.getPixelForValue(0));
      ctx.stroke();
      ctx.restore();
    },
    afterDraw(chart: any) {
      const ctx: CanvasRenderingContext2D = chart.ctx;
      const xs = chart.scales.x;
      const ys = chart.scales.y;
      ctx.save();

      // tick marks
      ctx.strokeStyle = AXIS_COLOR;
      ctx.lineWidth = 1.5;
      ctx.beginPath();
      for (let v = 0; v <= 68; v += 4) {
        const p = Math.round(xs.getPixelForValue(v)) + 0.5;
        const major = v % 12 === 0 || v === 68;
        ctx.moveTo(p, ys.bottom);
        ctx.lineTo(p, ys.bottom + (major ? 7 : 4));
      }
      for (let v = 0; v <= 4; v += 0.5) {
        const p = Math.round(ys.getPixelForValue(v)) + 0.5;
        if (Number.isInteger(v)) {
          ctx.moveTo(xs.left - 7, p);
          ctx.lineTo(xs.left + 8, p);
        } else {
          ctx.moveTo(xs.left - 5, p);
          ctx.lineTo(xs.left, p);
        }
      }
      ctx.stroke();

      // frame
      ctx.strokeStyle = "#8c8c8c";
      ctx.lineWidth = 2;
      ctx.beginPath();
      ctx.moveTo(10, spec.frameTop);
      ctx.lineTo(spec.width, spec.frameTop);
      ctx.moveTo(10, spec.frameTop);
      ctx.lineTo(10, spec.frameBottom);
      if (spec.drawBottom) {
        ctx.moveTo(10, spec.frameBottom);
        ctx.lineTo(spec.width, spec.frameBottom);
      }
      ctx.stroke();

      // panel label
      ctx.fillStyle = "#000";
      ctx.fillRect(9, spec.frameTop, 28, 44);
      ctx.fillStyle = "#fff";
      ctx.font = `bold 27px ${FONT}`;
      ctx.textAlign = "center";
      ctx.textBaseline = "alphabetic";
      ctx.fillText(spec.label, 23, spec.frameTop + 31);

      // legend
      ctx.font = `22px ${FONT}`;
      ctx.textAlign = "left";
      for (const s of spec.series) {
        const r = spec.legendRows[s.row];
        drawMarker(ctx, s, s.mx, r.my);
        ctx.fillStyle = TEXT_COLOR;
        ctx.fillText(s.label, s.tx, r.ty);
      }

      // red annotation
      ctx.fillStyle = RED;
      ctx.font = `19px ${FONT}`;
      ctx.fillText("Mise en continu", xs.getPixelForValue(spec.start) + spec.redDx, ys.top + spec.redDy);

      // y title with subscript
      ctx.save();
      ctx.translate(36, spec.yTitleY);
      ctx.rotate(-Math.PI / 2);
      const main = "Débit (mL/min/L";
      const sub = "milieu";
      const end = ")";
      ctx.font = `22px ${FONT}`;
      const w1 = ctx.measureText(main).width;
      const w3 = ctx.measureText(end).width;
      ctx.font = `14px ${FONT}`;
      const w2 = ctx.measureText(sub).width;
      const x0 = -(w1 + w2 + w3) / 2;
      ctx.fillStyle = TEXT_COLOR;
      ctx.textAlign = "left";
      ctx.font = `22px ${FONT}`;
      ctx.fillText(main, x0, 0);
      ctx.font = `14px ${FONT}`;
      ctx.fillText(sub, x0 + w1, 4);
      ctx.font = `22px ${FONT}`;
      ctx.fillText(end, x0 + w1 + w2, 0);
      ctx.restore();

      // x title, clipped at right edge
      ctx.save();
      ctx.translate(1173, spec.tempsY);
      ctx.rotate(Math.PI / 2);
      ctx.fillStyle = TEXT_COLOR;
      ctx.font = `21px ${FONT}`;
      ctx.textAlign = "center";
      ctx.fillText("Temps (h)", 0, 0);
      ctx.restore();

      ctx.restore();
    },
  };
}

function buildChart(canvas: HTMLCanvasElement, spec: PanelSpec) {
  return new Chart(canvas, {
    type: "scatter",
    data: {
      datasets: spec.series.map((s) => ({
        label: s.label,
        data: s.data.map(([x, y]) => ({ x, y })),
        pointStyle: s.shape === "circle" ? "circle" : "crossRot",
        pointRadius: s.shape === "circle" ? 5.2 : 7.2,
        pointBorderWidth: s.shape === "circle" ? 2 : 2.4,
        borderColor: s.stroke,
        backgroundColor: s.fill,
        pointBorderColor: s.stroke,
        pointBackgroundColor: s.fill,
        order: s.order,
        showLine: false,
      })),
    },
    options: {
      animation: false,
      responsive: false,
      events: [],
      layout: { padding: spec.padding },
      plugins: {
        legend: { display: false },
        tooltip: { enabled: false },
        title: { display: false },
      },
      scales: {
        x: {
          type: "linear",
          min: 0,
          max: 68,
          afterFit: (s: any) => { s.height = spec.xAxisH; },
          afterBuildTicks: (s: any) => { s.ticks = X_TICKS.map((v) => ({ value: v })); },
          ticks: {
            padding: 24,
            font: { size: 20 },
            color: TEXT_COLOR,
            maxRotation: 0,
            autoSkip: false,
            callback: (v: any) => String(v),
          },
          grid: { color: GRID_COLOR, drawTicks: false },
          border: { color: AXIS_COLOR, width: 1.5 },
        },
        y: {
          type: "linear",
          min: 0,
          max: 4,
          afterFit: (s: any) => { s.width = 60; },
          afterBuildTicks: (s: any) => { s.ticks = Y_TICKS.map((v) => ({ value: v })); },
          ticks: {
            padding: 25,
            font: { size: 20 },
            color: TEXT_COLOR,
            callback: (v: any) => String(v),
          },
          grid: { color: GRID_COLOR, drawTicks: false },
          border: { color: AXIS_COLOR, width: 1.5 },
        },
      },
    },
    plugins: [makeDecor(spec)],
  } as any);
}

export default function App() {
  const refA = useRef<HTMLCanvasElement>(null);
  const refB = useRef<HTMLCanvasElement>(null);

  useEffect(() => {
    const a = refA.current ? buildChart(refA.current, PANEL_A) : null;
    const b = refB.current ? buildChart(refB.current, PANEL_B) : null;
    return () => {
      a?.destroy();
      b?.destroy();
    };
  }, []);

  return (
    <div style={{ position: "absolute", left: 0, top: 0, width: 1187, height: 1058, background: "#fff", overflow: "hidden" }}>
      <canvas ref={refA} width={1187} height={540} style={{ position: "absolute", left: 0, top: 0, width: 1187, height: 540 }} />
      <canvas ref={refB} width={1187} height={518} style={{ position: "absolute", left: 0, top: 540, width: 1187, height: 518 }} />
    </div>
  );
}
